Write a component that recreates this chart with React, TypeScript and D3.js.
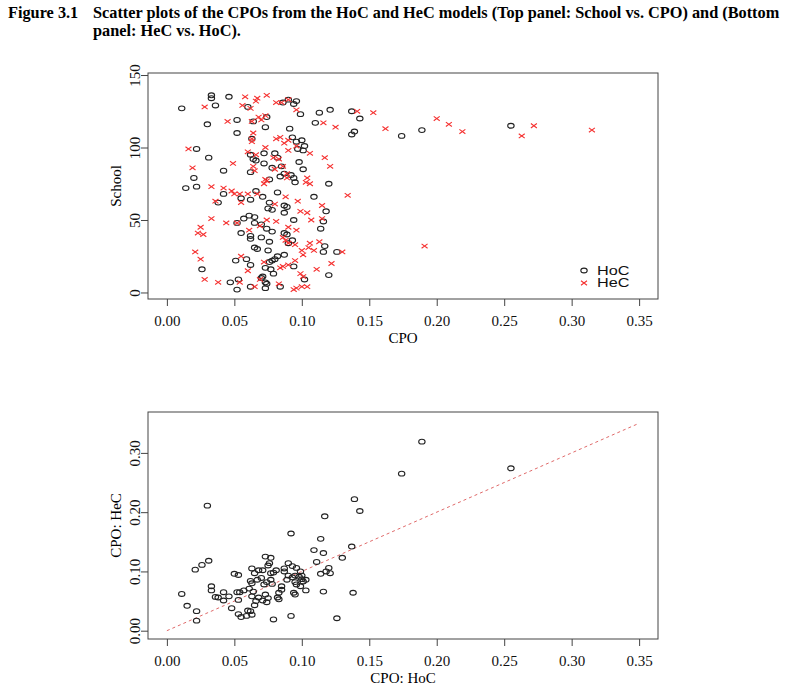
import React, { useEffect, useRef } from 'react';
import * as d3 from 'd3';

// top panel: [cpo, school]
const hocTop: [number, number][] = [
  [0.011, 127], [0.033, 136], [0.033, 134], [0.036, 129], [0.046, 135], [0.030, 116], [0.052, 119], [0.052, 110],
  [0.064, 118], [0.073, 114], [0.074, 121], [0.060, 128], [0.086, 131], [0.090, 133], [0.096, 132], [0.094, 130],
  [0.099, 123], [0.091, 113], [0.110, 117], [0.113, 124], [0.121, 126], [0.137, 125], [0.143, 120], [0.139, 111],
  [0.137, 109], [0.174, 108], [0.189, 112], [0.255, 115], [0.022, 99], [0.031, 93], [0.063, 106], [0.062, 95],
  [0.064, 92], [0.066, 91], [0.072, 96], [0.072, 89], [0.080, 96], [0.082, 93], [0.093, 107], [0.096, 104],
  [0.100, 105], [0.102, 101], [0.097, 99], [0.101, 98], [0.078, 86], [0.085, 87], [0.087, 82], [0.098, 90],
  [0.101, 85], [0.042, 84], [0.062, 83], [0.020, 79], [0.076, 78], [0.084, 80], [0.092, 81], [0.094, 79],
  [0.014, 72], [0.022, 73], [0.042, 68], [0.038, 62], [0.055, 65], [0.062, 64], [0.066, 70], [0.071, 66],
  [0.076, 62], [0.082, 69], [0.095, 76], [0.120, 75], [0.109, 66], [0.075, 58], [0.078, 57], [0.087, 60],
  [0.089, 59], [0.087, 55], [0.094, 50], [0.118, 56], [0.116, 49], [0.114, 44], [0.061, 53], [0.057, 51],
  [0.065, 52], [0.052, 48], [0.065, 48], [0.070, 47], [0.074, 44], [0.078, 42], [0.055, 41], [0.062, 39],
  [0.062, 37], [0.070, 38], [0.076, 35], [0.087, 41], [0.089, 40], [0.093, 36], [0.090, 34], [0.065, 31],
  [0.067, 30], [0.075, 29], [0.087, 26], [0.082, 25], [0.080, 23], [0.078, 22], [0.076, 21], [0.051, 22],
  [0.059, 23], [0.062, 19], [0.073, 17], [0.077, 16], [0.079, 13], [0.026, 16], [0.094, 18], [0.117, 32],
  [0.116, 28], [0.126, 28], [0.120, 12], [0.102, 9], [0.047, 7], [0.053, 9], [0.062, 4], [0.071, 11],
  [0.070, 10], [0.073, 7], [0.074, 6], [0.073, 3], [0.084, 4], [0.052, 2]
];

const hecTop: [number, number][] = [
  [0.028, 128], [0.058, 135], [0.066, 132], [0.067, 134], [0.074, 136], [0.056, 129], [0.062, 127], [0.081, 131],
  [0.085, 131], [0.090, 133], [0.045, 118], [0.063, 118], [0.068, 121], [0.073, 122], [0.070, 119], [0.096, 126],
  [0.116, 117], [0.125, 114], [0.141, 125], [0.153, 124], [0.162, 113], [0.200, 120], [0.209, 116], [0.219, 111],
  [0.263, 108], [0.272, 115], [0.315, 112], [0.191, 32], [0.064, 110], [0.063, 106], [0.063, 104], [0.081, 106],
  [0.084, 107], [0.090, 105], [0.087, 103], [0.016, 99], [0.073, 100], [0.060, 97], [0.066, 95], [0.079, 93],
  [0.083, 92], [0.090, 98], [0.096, 101], [0.106, 96], [0.049, 89], [0.064, 87], [0.065, 84], [0.080, 85],
  [0.086, 87], [0.089, 82], [0.019, 86], [0.117, 93], [0.121, 87], [0.073, 78], [0.089, 79], [0.104, 79],
  [0.033, 73], [0.042, 72], [0.048, 70], [0.050, 68], [0.054, 68], [0.060, 68], [0.067, 68], [0.036, 63],
  [0.055, 62], [0.072, 75], [0.074, 77], [0.080, 61], [0.088, 66], [0.097, 63], [0.103, 76], [0.106, 75],
  [0.115, 60], [0.134, 67], [0.033, 51], [0.044, 48], [0.052, 48], [0.025, 45], [0.023, 41], [0.027, 40],
  [0.061, 43], [0.069, 46], [0.074, 50], [0.081, 49], [0.090, 45], [0.096, 43], [0.099, 56], [0.104, 55],
  [0.107, 50], [0.115, 51], [0.086, 38], [0.088, 36], [0.090, 34], [0.095, 33], [0.100, 29], [0.105, 31],
  [0.106, 34], [0.109, 29], [0.113, 35], [0.130, 28], [0.021, 28], [0.025, 23], [0.055, 25], [0.072, 21],
  [0.060, 15], [0.084, 17], [0.086, 18], [0.090, 19], [0.095, 22], [0.101, 26], [0.111, 16], [0.122, 20],
  [0.099, 13], [0.101, 11], [0.028, 9], [0.038, 7], [0.054, 7], [0.069, 9], [0.083, 6], [0.094, 2],
  [0.096, 3], [0.100, 4], [0.104, 4], [0.065, 4]
];

// bottom panel: [CPO HoC, CPO HeC]
const hocVsHec: [number, number][] = [
  [0.030, 0.211], [0.092, 0.164], [0.114, 0.155], [0.117, 0.193], [0.139, 0.222], [0.143, 0.202], [0.137, 0.142],
  [0.174, 0.265], [0.189, 0.319], [0.255, 0.274], [0.109, 0.136], [0.011, 0.062], [0.015, 0.042], [0.022, 0.033],
  [0.022, 0.017], [0.021, 0.103], [0.026, 0.111], [0.031, 0.118], [0.033, 0.075], [0.033, 0.068], [0.036, 0.057],
  [0.038, 0.056], [0.042, 0.065], [0.042, 0.051], [0.046, 0.058], [0.048, 0.038], [0.050, 0.096], [0.053, 0.094],
  [0.053, 0.052], [0.052, 0.065], [0.054, 0.065], [0.053, 0.028], [0.055, 0.023], [0.059, 0.025], [0.062, 0.033],
  [0.063, 0.027], [0.060, 0.034], [0.057, 0.068], [0.063, 0.105], [0.065, 0.097], [0.068, 0.102], [0.071, 0.102],
  [0.062, 0.084], [0.063, 0.080], [0.061, 0.071], [0.064, 0.066], [0.063, 0.058], [0.066, 0.050], [0.065, 0.043],
  [0.068, 0.056], [0.071, 0.051], [0.073, 0.061], [0.075, 0.055], [0.074, 0.048], [0.067, 0.086], [0.070, 0.089],
  [0.072, 0.078], [0.074, 0.082], [0.077, 0.086], [0.078, 0.079], [0.073, 0.125], [0.077, 0.123], [0.076, 0.114],
  [0.075, 0.110], [0.077, 0.097], [0.079, 0.098], [0.081, 0.102], [0.083, 0.064], [0.082, 0.056], [0.083, 0.053],
  [0.085, 0.069], [0.085, 0.075], [0.087, 0.105], [0.087, 0.100], [0.089, 0.086], [0.090, 0.093], [0.093, 0.090],
  [0.090, 0.114], [0.093, 0.109], [0.096, 0.106], [0.095, 0.093], [0.098, 0.091], [0.100, 0.087], [0.095, 0.082],
  [0.096, 0.078], [0.099, 0.075], [0.101, 0.083], [0.094, 0.064], [0.095, 0.061], [0.099, 0.100], [0.100, 0.093],
  [0.103, 0.086], [0.103, 0.068], [0.092, 0.025], [0.079, 0.019], [0.116, 0.066], [0.114, 0.096], [0.118, 0.100],
  [0.120, 0.106], [0.121, 0.097], [0.111, 0.116], [0.116, 0.131], [0.130, 0.123], [0.138, 0.064], [0.126, 0.021]
];

const xTicks = [0, 0.05, 0.1, 0.15, 0.2, 0.25, 0.3, 0.35];
const schoolTicks = [0, 50, 100, 150];
const hecTicks = [0, 0.1, 0.2, 0.3];
const refLine: [number, number][] = [[0, 0], [0.35, 0.35]];
const legendItems = ['HoC', 'HeC'];
const titleLines = [
  'Scatter plots of the CPOs from the HoC and HeC models (Top panel: School vs. CPO) and (Bottom',
  'panel: HeC vs. HoC).'
];

const serif = '"Liberation Serif", "Times New Roman", serif';
const sans = '"Liberation Sans", Arial, sans-serif';
const RED = '#f5302f';
const INK = '#222';

const App = () => {
  const ref = useRef<SVGSVGElement>(null);

  useEffect(() => {
    const svg = d3.select(ref.current);
    svg.selectAll('*').remove();

    svg
      .append('text')
      .attr('x', 8)
      .attr('y', 18)
      .attr('font-family', serif)
      .attr('font-weight', 'bold')
      .attr('font-size', 16.3)
      .text('Figure 3.1');

    titleLines.forEach((t, i) => {
      svg
        .append('text')
        .attr('x', 93)
        .attr('y', 18 + i * 17.5)
        .attr('font-family', serif)
        .attr('font-weight', 'bold')
        .attr('font-size', 16.3)
        .text(t);
    });

    const left = 148;
    const right = 658;
    const x = d3.scaleLinear().domain([-0.014, 0.364]).range([left, right]);

    const drawFrame = (g, yScale, yTicks, yFmt, xLabel, yLabel, top, bottom) => {
      g.append('rect')
        .attr('x', left)
        .attr('y', top)
        .attr('width', right - left)
        .attr('height', bottom - top)
        .attr('fill', 'none')
        .attr('stroke', '#444')
        .attr('stroke-width', 1);

      // x axis
      const xa = g
        .append('g')
        .attr('transform', `translate(0,${bottom})`)
        .call(d3.axisBottom(x).tickValues(xTicks).tickSize(7).tickPadding(9).tickFormat(d3.format('.2f')));
      xa.select('.domain').remove();
      xa.selectAll('line').attr('stroke', '#444');
      xa.selectAll('text').attr('font-family', serif).attr('font-size', 15).attr('fill', '#111');

      // y axis, rotated labels like R
      const ya = g
        .append('g')
        .attr('transform', `translate(${left},0)`)
        .call(d3.axisLeft(yScale).tickValues(yTicks).tickSize(7).tickFormat(yFmt));
      ya.select('.domain').remove();
      ya.selectAll('line').attr('stroke', '#444');
      ya.selectAll('text')
        .attr('font-family', serif)
        .attr('font-size', 15)
        .attr('fill', '#111')
        .attr('x', null)
        .attr('dy', null)
        .attr('text-anchor', 'middle')
        .attr('transform', 'translate(-13,0) rotate(-90)')
        .attr('dominant-baseline', 'central');

      g.append('text')
        .attr('x', (left + right) / 2)
        .attr('y', bottom + 44)
        .attr('text-anchor', 'middle')
        .attr('font-family', serif)
        .attr('font-size', 15)
        .text(xLabel);

      g.append('text')
        .attr('transform', `translate(116,${(top + bottom) / 2}) rotate(-90)`)
        .attr('text-anchor', 'middle')
        .attr('dominant-baseline', 'central')
        .attr('font-family', serif)
        .attr('font-size', 15)
        .text(yLabel);
    };

    const drawCircles = (g, data, yScale) => {
      g.selectAll(null)
        .data(data)
        .enter()
        .append('ellipse')
        .attr('cx', (d) => x(d[0]))
        .attr('cy', (d) => yScale(d[1]))
        .attr('rx', 3.2)
        .attr('ry', 2.4)
        .attr('fill', 'none')
        .attr('stroke', INK)
        .attr('stroke-width', 1.1);
    };

    const crossPath = (cx, cy) => `M${cx - 3},${cy - 2.2}L${cx + 3},${cy + 2.2}M${cx - 3},${cy + 2.2}L${cx + 3},${cy - 2.2}`;

    // ---- top panel
    const top1 = 73;
    const bot1 = 299;
    const ySchool = d3.scaleLinear().domain([-4.5, 151.4]).range([bot1, top1]);
    const g1 = svg.append('g');
    drawFrame(g1, ySchool, schoolTicks, d3.format('d'), 'CPO', 'School', top1, bot1);
    drawCircles(g1, hocTop, ySchool);
    g1.selectAll(null)
      .data(hecTop)
      .enter()
      .append('path')
      .attr('d', (d) => crossPath(x(d[0]), ySchool(d[1])))
      .attr('stroke', RED)
      .attr('stroke-width', 1.1)
      .attr('fill', 'none');

    // legend
    legendItems.forEach((name, i) => {
      const ly = 270.5 + i * 12.5;
      if (i === 0) {
        g1.append('ellipse').attr('cx', 584).attr('cy', ly).attr('rx', 3.2).attr('ry', 2.4)
          .attr('fill', 'none').attr('stroke', INK).attr('stroke-width', 1.1);
      } else {
        g1.append('path').attr('d', crossPath(584, ly)).attr('stroke', RED).attr('stroke-width', 1.1).attr('fill', 'none');
      }
      g1.append('text')
        .attr('transform', `translate(597,${ly}) scale(1.3,1)`)
        .attr('dominant-baseline', 'central')
        .attr('font-family', sans)
        .attr('font-size', 12.5)
        .attr('fill', '#111')
        .text(name);
    });

    // ---- bottom panel
    const top2 = 412;
    const bot2 = 639;
    const yHec = d3.scaleLinear().domain([-0.014, 0.369]).range([bot2, top2]);
    const g2 = svg.append('g');
    drawFrame(g2, yHec, hecTicks, d3.format('.2f'), 'CPO: HoC', 'CPO: HeC', top2, bot2);

    g2.append('path')
      .datum(refLine)
      .attr('d', d3.line().x((d) => x(d[0])).y((d) => yHec(d[1])))
      .attr('stroke', '#e06a6a')
      .attr('stroke-width', 1)
      .attr('stroke-dasharray', '3,3')
      .attr('fill', 'none');

    drawCircles(g2, hocVsHec, yHec);
  }, []);

  return (
    <svg
      ref={ref}
      width={798}
      height={690}
      style={{ position: 'absolute', left: 0, top: 0, background: '#fff' }}
    />
  );
};

export default App;
